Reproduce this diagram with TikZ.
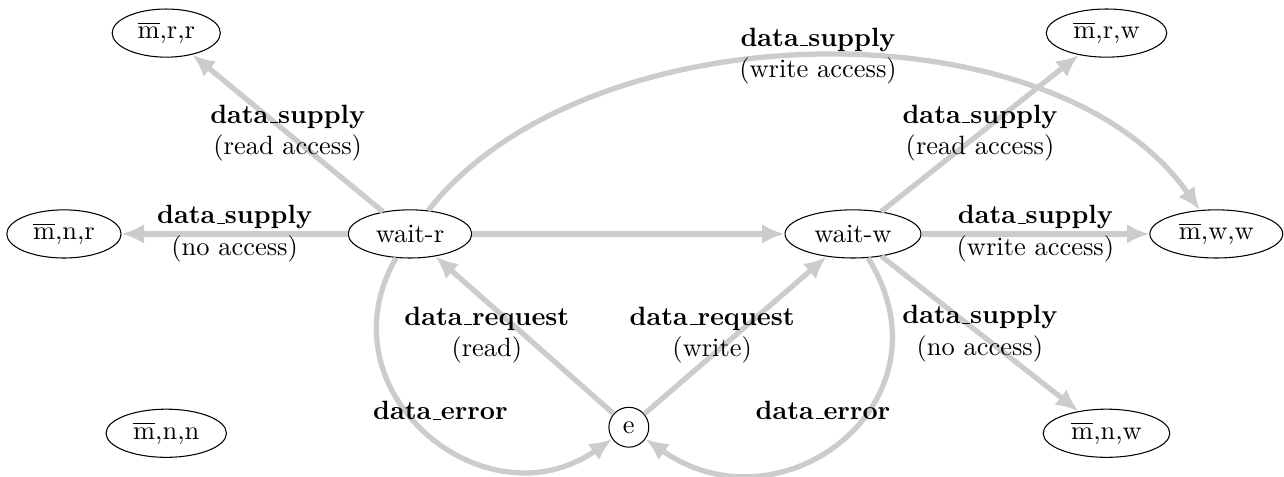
\documentclass[tikz,border=0pt]{standalone}
\usepackage{tikz}
\usetikzlibrary{shapes.geometric,arrows.meta,positioning}
\definecolor{edgeGray}{RGB}{204,204,204}
% short underscore, as in the old OT1 fonts
\newcommand{\usc}{\leavevmode\kern.06em\vbox{\hrule width.3em}}

\begin{document}
\begin{tikzpicture}[
          state/.style={draw, ellipse, inner xsep=3.6pt, inner ysep=1pt,
            minimum height=0.64cm},
          errstate/.style={draw, circle, inner sep=1pt, minimum size=0.53cm},
          trans/.style={draw=edgeGray, line width=2pt,
            -{Latex[length=8.5pt,width=7.5pt]}},
          lbl/.style={align=center, text=black}
        ]
          \useasboundingbox (0,0) rectangle (17.07,6.33);
          % states
          \node[state] (mrr) at (2.21,5.89) {$\overline{\mathrm{m}}$,r,r};
          \node[state] (mnr) at (0.85,3.22) {$\overline{\mathrm{m}}$,n,r};
          \node[state] (mnn) at (2.21,0.57) {$\overline{\mathrm{m}}$,n,n};
          \node[state] (waitr) at (5.45,3.22) {wait-r};
          \node[state] (waitw) at (11.34,3.22) {wait-w};
          \node[state] (mrw) at (14.71,5.89) {$\overline{\mathrm{m}}$,r,w};
          \node[state] (mww) at (16.17,3.22) {$\overline{\mathrm{m}}$,w,w};
          \node[state] (mnw) at (14.71,0.57) {$\overline{\mathrm{m}}$,n,w};
          \node[errstate] (e) at (8.36,0.65) {e};
          % transitions out of wait-r
          \draw[trans] (waitr) -- node[lbl] {\textbf{data\usc supply}\\(read access)} (mrr);
          \draw[trans] (waitr) -- node[lbl] {\textbf{data\usc supply}\\(no access)} (mnr);
          \draw[trans] (waitr) -- (waitw);
          \draw[trans] (waitr) to[out=52, in=125, looseness=0.85]
            node[lbl] {\textbf{data\usc supply}\\(write access)} (mww);
          \draw[trans] (waitr) to[out=-120, in=-145, looseness=1.4]
            node[lbl, xshift=0.17cm, yshift=0.28cm] {\textbf{data\usc error}} (e);
          % transitions out of wait-w
          \draw[trans] (waitw) -- node[lbl] {\textbf{data\usc supply}\\(read access)} (mrw);
          \draw[trans] (waitw) -- node[lbl] {\textbf{data\usc supply}\\(write access)} (mww);
          \draw[trans] (waitw) -- node[lbl] {\textbf{data\usc supply}\\(no access)} (mnw);
          \draw[trans] (waitw) to[out=-58, in=-35, looseness=1.5]
            node[lbl, xshift=-0.25cm, yshift=0.37cm] {\textbf{data\usc error}} (e);
          % requests from e
          \draw[trans] (e) -- node[lbl, xshift=-0.5cm] {\textbf{data\usc request}\\(read)} (waitr);
          \draw[trans] (e) -- node[lbl, xshift=-0.31cm] {\textbf{data\usc request}\\(write)} (waitw);
        \end{tikzpicture}
\end{document}
